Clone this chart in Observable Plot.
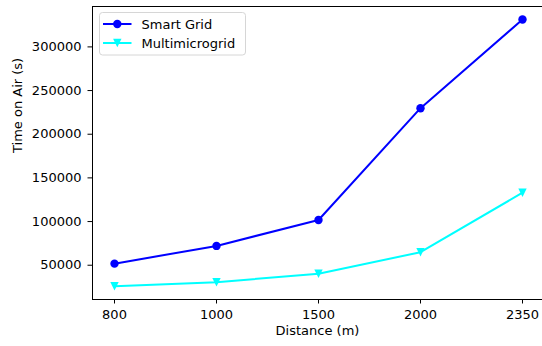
<!DOCTYPE html>
<html>
<head>
<meta charset="utf-8">
<script src="https://cdn.jsdelivr.net/npm/d3@7"></script>
<script src="https://cdn.jsdelivr.net/npm/@observablehq/plot@0.6"></script>
<style>
  html, body { margin: 0; padding: 0; background: #fff; }
  #chart svg { display: block; }
</style>
</head>
<body>
<div id="chart"></div>
<script>
const distances = ["800", "1000", "1500", "2000", "2350"];
const smartGrid = [51800, 72100, 101800, 229800, 331300];
const multimicrogrid = [26000, 30500, 40300, 64900, 133000];
const seriesNames = ["Smart Grid", "Multimicrogrid"];
const seriesColors = ["blue", "cyan"];
const yTicks = [50000, 100000, 150000, 200000, 250000, 300000];
const xTitle = "Distance (m)";
const yTitle = "Time on Air (s)";

const rows = [];
distances.forEach((d, i) => {
  rows.push({distance: d, value: smartGrid[i], series: seriesNames[0]});
  rows.push({distance: d, value: multimicrogrid[i], series: seriesNames[1]});
});
const sg = rows.filter(r => r.series === seriesNames[0]);
const mm = rows.filter(r => r.series === seriesNames[1]);

const triangleDown = {
  draw(context, size) {
    const r = Math.sqrt(size / Math.PI);
    context.moveTo(-r, -r);
    context.lineTo(r, -r);
    context.lineTo(0, r);
    context.closePath();
  }
};

const FONT = "'DejaVu Sans', sans-serif";

const plot = Plot.plot({
  width: 542,
  height: 346,
  marginLeft: 92,
  marginRight: 0,
  marginTop: 6,
  marginBottom: 47,
  style: {fontFamily: FONT, fontSize: "13px", color: "black", background: "white"},
  x: {type: "point", domain: distances, range: [113.3, 522.7], padding: 0},
  y: {domain: [10750, 346250]},
  marks: [
    Plot.frame({stroke: "black", strokeWidth: 1}),
    Plot.axisX({ticks: distances, tickSize: 4.5, tickPadding: 6, label: null, fontSize: 13}),
    Plot.axisY({ticks: yTicks, tickSize: 4.5, tickPadding: 6.5, tickFormat: d => String(d), label: null, fontSize: 13}),
    Plot.text([xTitle], {frameAnchor: "bottom", dy: 35, fontSize: 13, fill: "black"}),
    Plot.text([yTitle], {frameAnchor: "left", dx: -74.5, rotate: -90, fontSize: 13, fill: "black"}),
    Plot.line(sg, {x: "distance", y: "value", stroke: seriesColors[0], strokeWidth: 2}),
    Plot.dot(sg, {x: "distance", y: "value", fill: seriesColors[0], r: 4.2, symbol: "circle"}),
    Plot.line(mm, {x: "distance", y: "value", stroke: seriesColors[1], strokeWidth: 2}),
    Plot.dot(mm, {x: "distance", y: "value", fill: seriesColors[1], r: 4.2, symbol: triangleDown})
  ]
});

document.getElementById("chart").appendChild(plot);

// Legend (matplotlib-style, upper left)
const svg = d3.select(plot);
const lg = svg.append("g").attr("font-family", FONT).attr("font-size", 13).attr("text-anchor", "start");
lg.append("rect")
  .attr("x", 99.5).attr("y", 12.5).attr("width", 146).attr("height", 42.5)
  .attr("rx", 3).attr("fill", "white").attr("fill-opacity", 0.8)
  .attr("stroke", "#d6d6d6").attr("stroke-width", 1);
const rowY = [24, 43];
seriesNames.forEach((name, i) => {
  const y = rowY[i];
  lg.append("line").attr("x1", 103).attr("x2", 131.5).attr("y1", y).attr("y2", y)
    .attr("stroke", seriesColors[i]).attr("stroke-width", 2);
  if (i === 0) {
    lg.append("circle").attr("cx", 117.3).attr("cy", y).attr("r", 4.2).attr("fill", seriesColors[i]);
  } else {
    const r = 4.2;
    lg.append("path").attr("d", `M${117.3 - r},${y - r}L${117.3 + r},${y - r}L117.3,${y + r}Z`).attr("fill", seriesColors[i]);
  }
  lg.append("text").attr("x", 141.5).attr("y", y).attr("dy", "0.35em").attr("fill", "black").attr("text-anchor", "start").text(name);
});
</script>
</body>
</html>
